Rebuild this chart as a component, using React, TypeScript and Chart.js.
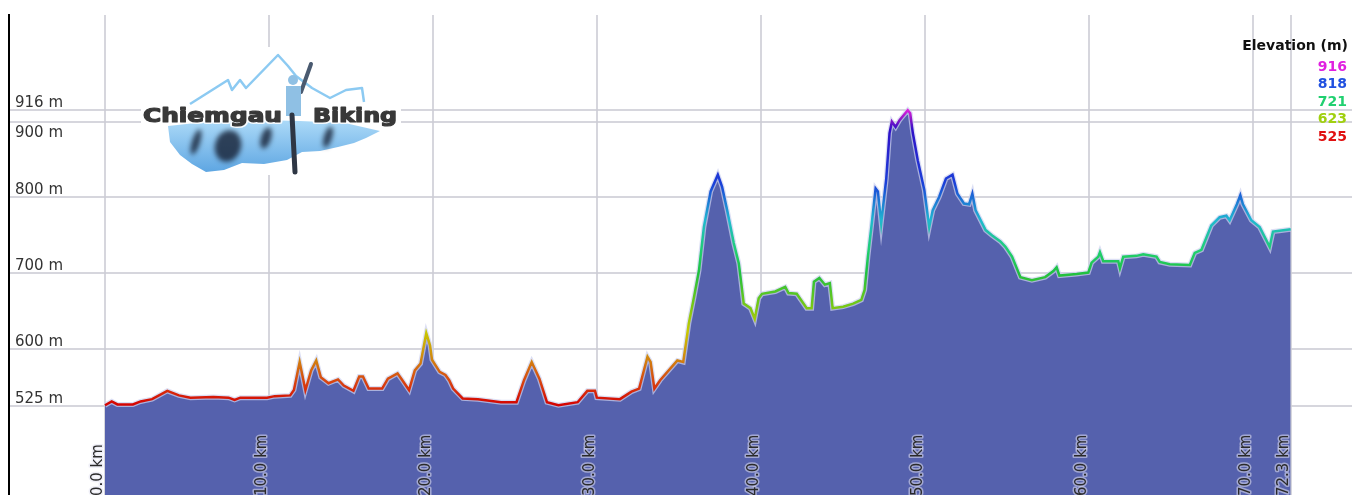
import React, { useEffect, useRef } from "react";
import { Chart, registerables } from "chart.js";

Chart.register(...registerables);

// ---- data (distance in km, elevation in m) ----
const KM = [
  0, 0.41, 0.76, 1.7, 2.17, 2.87, 3.8, 4.51, 5.21, 6.61,
  7.54, 7.9, 8.25, 9.88, 10.35, 11.29, 11.52, 11.87, 12.22, 12.57,
  12.88, 13.16, 13.63, 14.21, 14.56, 15.15, 15.5, 15.73, 16.08, 16.9,
  17.25, 17.84, 18.07, 18.54, 18.89, 19.24, 19.59, 19.82, 19.94, 20.41,
  20.76, 20.99, 21.23, 21.81, 22.74, 24.15, 25.09, 25.55, 26.02, 26.49,
  26.95, 27.65, 28.82, 29.41, 29.88, 29.99, 31.4, 32.1, 32.57, 33.08,
  33.27, 33.5, 33.85, 34.9, 35.26, 35.6, 35.92, 36.22, 36.52, 36.93,
  37.37, 37.63, 37.94, 38.34, 38.65, 38.95, 39.36, 39.62, 39.86, 40.06,
  40.87, 41.48, 41.68, 42.18, 42.79, 43.09, 43.23, 43.56, 43.9, 44.2,
  44.37, 45.01, 45.62, 46.12, 46.32, 46.52, 46.73, 46.99, 47.13, 47.33,
  47.64, 47.84, 47.98, 48.21, 48.45, 48.95, 49.1, 49.26, 49.56, 49.96,
  50.26, 50.47, 50.87, 51.28, 51.68, 51.98, 52.38, 52.69, 52.89, 53.09,
  53.7, 54.1, 54.6, 54.91, 55.31, 55.82, 56.52, 57.33, 57.83, 58.03,
  58.2, 59.25, 59.96, 60.16, 60.57, 60.67, 60.87, 61.79, 61.89, 62.09,
  62.9, 63.31, 64.12, 64.32, 64.93, 66.15, 66.45, 66.86, 67.46, 67.97,
  68.38, 68.58, 69.02, 69.23, 69.39, 69.9, 70.41, 71.02, 71.22, 71.62,
  72.3,
];

const ELEV = [
  526, 531, 527, 527, 531, 534, 545, 539, 536, 537,
  536, 533, 536, 536, 538, 539, 546, 583, 546, 572,
  585, 563, 555, 560, 552, 545, 564, 564, 548, 548,
  561, 568, 561, 546, 572, 581, 621, 605, 586, 570,
  566, 559, 548, 535, 534, 530, 530, 559, 583, 561,
  530, 526, 530, 545, 545, 536, 534, 544, 548, 590,
  583, 548, 559, 585, 583, 634, 669, 704, 761, 808,
  830, 814, 783, 740, 713, 660, 654, 640, 667, 673,
  676, 682, 674, 673, 654, 654, 689, 694, 685, 687,
  654, 656, 660, 665, 678, 722, 761, 812, 808, 766,
  825, 885, 900, 893, 902, 915, 911, 885, 849, 810,
  761, 783, 801, 825, 830, 805, 792, 791, 805, 783,
  757, 750, 742, 735, 722, 695, 691, 695, 703, 708,
  697, 699, 701, 714, 722, 728, 716, 716, 707, 722,
  723, 725, 722, 715, 712, 711, 727, 731, 763, 774,
  776, 770, 791, 803, 791, 770, 761, 735, 755, 756,
  758,
];

const X_TICKS = [0, 10, 20, 30, 40, 50, 60, 70, 72.3];
const X_TICK_LABELS = ["0.0 km", "10.0 km", "20.0 km", "30.0 km", "40.0 km", "50.0 km", "60.0 km", "70.0 km", "72.3 km"];
const Y_TICKS = [525, 600, 700, 800, 900, 916];
const Y_TICK_LABELS = ["525 m", "600 m", "700 m", "800 m", "900 m", "916 m"];

const LEGEND_TITLE = "Elevation (m)";
const LEGEND_VALUES = ["916", "818", "721", "623", "525"];
const LEGEND_COLORS = ["#e020e0", "#2050e0", "#20d070", "#a0d010", "#e01010"];

const GRAD_ELEV = [525, 555, 590, 623, 660, 700, 730, 770, 818, 890, 905, 916];
const GRAD_COLORS = ["#d40000", "#d84010", "#d08a10", "#c8c800", "#70c818", "#20c040", "#20d070", "#20b8d0", "#1a40d8", "#3010c8", "#9a18c8", "#e020e0"];

const LOGO_WORDS = ["Chiemgau", "Biking"];

// axis extents
const X_MIN = -5.854;
const X_MAX = 76.04;
const Y_MIN = 407.6;
const Y_MAX = 1040.7;

const FILL_COLOR = "#5561ad";
const GRID_COLOR = "rgba(204,204,212,0.8)";
const FONT = '"DejaVu Sans", Verdana, sans-serif';

function lineGradient(ctx: any) {
  const chart = ctx.chart;
  const { chartArea, scales } = chart;
  if (!chartArea || !scales.y) return GRAD_COLORS[0];
  const first = GRAD_ELEV[0];
  const last = GRAD_ELEV[GRAD_ELEV.length - 1];
  const y0 = scales.y.getPixelForValue(first);
  const y1 = scales.y.getPixelForValue(last);
  const g = chart.ctx.createLinearGradient(0, y0, 0, y1);
  GRAD_ELEV.forEach((e, i) => g.addColorStop((e - first) / (last - first), GRAD_COLORS[i]));
  return g;
}

function drawLogo(c: CanvasRenderingContext2D) {
  c.save();
  c.fillStyle = "#ffffff";
  c.fillRect(141, 47, 260, 128);

  // mountain outline
  const M = [[190, 104], [228, 80], [232, 90], [240, 80], [246, 88], [278, 55], [288, 66], [296, 76], [312, 88], [330, 98], [346, 90], [362, 88], [364, 102]];
  c.strokeStyle = "#8ccaf2";
  c.lineWidth = 2.5;
  c.lineJoin = "round";
  c.beginPath();
  M.forEach(([x, y], i) => (i ? c.lineTo(x, y) : c.moveTo(x, y)));
  c.stroke();

  // lake
  const L = [[168, 126], [205, 122], [260, 120], [300, 121], [345, 123], [380, 131], [366, 138], [354, 143], [338, 147], [320, 151], [302, 152], [287, 160], [264, 164], [242, 163], [224, 170], [206, 172], [192, 164], [180, 155], [170, 142]];
  const lg = c.createLinearGradient(0, 120, 0, 172);
  lg.addColorStop(0, "#acdaf8");
  lg.addColorStop(1, "#5ea6e2");
  c.fillStyle = lg;
  c.beginPath();
  L.forEach(([x, y], i) => (i ? c.lineTo(x, y) : c.moveTo(x, y)));
  c.closePath();
  c.fill();

  // dark reflections
  c.save();
  c.filter = "blur(2.5px)";
  c.fillStyle = "rgba(20,30,50,0.8)";
  const S = [[196, 142, 4, 13], [228, 146, 13, 16], [266, 138, 5, 11], [328, 137, 4, 11]];
  S.forEach(([x, y, rx, ry]) => {
    c.beginPath();
    c.ellipse(x, y, rx, ry, 0.3, 0, Math.PI * 2);
    c.fill();
  });
  c.restore();

  // rider
  c.strokeStyle = "#4a5a70";
  c.lineCap = "round";
  c.lineWidth = 4;
  c.beginPath();
  c.moveTo(301, 92);
  c.lineTo(311, 64);
  c.stroke();
  c.fillStyle = "#8fc0e4";
  c.beginPath();
  c.arc(293, 80, 5, 0, Math.PI * 2);
  c.fill();
  c.fillRect(286, 86, 15, 30);
  c.strokeStyle = "#2e3644";
  c.lineWidth = 5;
  c.beginPath();
  c.moveTo(292, 115);
  c.lineTo(295, 172);
  c.stroke();

  // words
  const drawWord = (txt: string, x: number, baseline: number, width: number) => {
    c.save();
    c.font = "bold 19px " + FONT;
    c.textAlign = "left";
    c.textBaseline = "alphabetic";
    const w = c.measureText(txt).width;
    c.translate(x, baseline);
    c.scale(width / w, 1);
    c.lineJoin = "round";
    c.strokeStyle = "rgba(255,255,255,0.9)";
    c.lineWidth = 4;
    c.strokeText(txt, 0, 0);
    c.fillStyle = "#383838";
    c.strokeStyle = "#383838";
    c.lineWidth = 1.2;
    c.strokeText(txt, 0, 0);
    c.fillText(txt, 0, 0);
    c.restore();
  };
  drawWord(LOGO_WORDS[0], 143, 122, 139);
  drawWord(LOGO_WORDS[1], 313, 122, 84);
  c.restore();
}

const overlayPlugin = {
  id: "overlay",
  afterDraw(chart: any) {
    const c: CanvasRenderingContext2D = chart.ctx;
    const xs = chart.scales.x;
    const ys = chart.scales.y;

    drawLogo(c);

    c.save();
    // y labels (inside plot, on top of their gridline; below if crowded)
    c.font = "15px " + FONT;
    c.textAlign = "left";
    c.textBaseline = "alphabetic";
    c.fillStyle = "#333333";
    Y_TICKS.forEach((v, i) => {
      const py = ys.getPixelForValue(v);
      const next = i + 1 < Y_TICKS.length ? ys.getPixelForValue(Y_TICKS[i + 1]) : -Infinity;
      const crowded = py - next < 20;
      c.fillText(Y_TICK_LABELS[i], 15, crowded ? py + 15.5 : py - 3);
    });

    // x labels (rotated, bottom of plot)
    X_TICKS.forEach((v, i) => {
      const px = xs.getPixelForValue(v);
      c.save();
      c.translate(px - 3, 496);
      c.rotate(-Math.PI / 2);
      c.textAlign = "left";
      c.textBaseline = "alphabetic";
      c.lineJoin = "round";
      c.strokeStyle = "rgba(225,225,240,0.55)";
      c.lineWidth = 3;
      c.strokeText(X_TICK_LABELS[i], 0, 0);
      c.fillStyle = "#2a2a2a";
      c.fillText(X_TICK_LABELS[i], 0, 0);
      c.restore();
    });

    // legend
    c.textAlign = "right";
    c.font = "bold 14px " + FONT;
    c.fillStyle = "#111111";
    c.fillText(LEGEND_TITLE, 1348, 50);
    LEGEND_VALUES.forEach((t, i) => {
      c.fillStyle = LEGEND_COLORS[i];
      c.fillText(t, 1347, 70.5 + i * 17.6);
    });
    c.restore();
  },
};

export default function App() {
  const ref = useRef<HTMLCanvasElement | null>(null);

  useEffect(() => {
    if (!ref.current) return;
    const points = KM.map((k, i) => ({ x: k, y: ELEV[i] }));
    const chart = new Chart(ref.current, {
      type: "line",
      data: {
        datasets: [
          {
            data: points,
            order: 0,
            borderColor: lineGradient,
            borderWidth: 2.5,
            fill: false,
            pointRadius: 0,
            tension: 0,
          },
          {
            data: points,
            order: 1,
            borderColor: "rgba(205,210,240,0.7)",
            borderWidth: 5,
            fill: false,
            pointRadius: 0,
            tension: 0,
          },
          {
            data: points,
            order: 2,
            borderWidth: 0,
            borderColor: "rgba(0,0,0,0)",
            backgroundColor: FILL_COLOR,
            fill: "start",
            pointRadius: 0,
            tension: 0,
          },
        ],
      },
      options: {
        responsive: false,
        animation: false,
        devicePixelRatio: 1,
        layout: { padding: { left: 9, top: 15, right: 10, bottom: 0 } },
        plugins: { legend: { display: false }, tooltip: { enabled: false } },
        events: [],
        scales: {
          x: {
            type: "linear",
            min: X_MIN,
            max: X_MAX,
            z: 1,
            ticks: { display: false },
            grid: { color: GRID_COLOR, lineWidth: 2, drawTicks: false },
            border: { display: false },
            afterBuildTicks: (s: any) => {
              s.ticks = X_TICKS.map((v) => ({ value: v }));
            },
          },
          y: {
            type: "linear",
            min: Y_MIN,
            max: Y_MAX,
            z: 1,
            ticks: { display: false },
            grid: { color: GRID_COLOR, lineWidth: 2, drawTicks: false },
            border: { display: true, color: "#000000", width: 2 },
            afterBuildTicks: (s: any) => {
              s.ticks = Y_TICKS.map((v) => ({ value: v }));
            },
          },
        },
      } as any,
      plugins: [overlayPlugin],
    });
    return () => chart.destroy();
  }, []);

  return (
    <div style={{ position: "fixed", left: 0, top: 0, width: 1362, height: 495, background: "#fff" }}>
      <canvas ref={ref} width={1362} height={495} style={{ display: "block" }} />
    </div>
  );
}
